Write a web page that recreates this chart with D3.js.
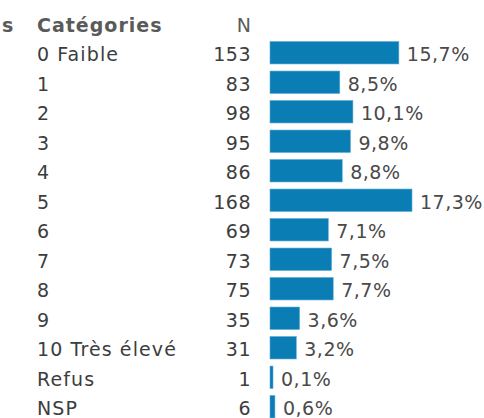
<!DOCTYPE html>
<html>
<head>
<meta charset="utf-8">
<script src="https://cdn.jsdelivr.net/npm/d3@7"></script>
<style>
  body { margin: 0; background: #fff; }
  svg { display: block; font-family: "DejaVu Sans", Verdana, sans-serif; }
</style>
</head>
<body>
<svg id="chart" width="484" height="418"></svg>
<script>
var categories = ["0 Faible", "1", "2", "3", "4", "5", "6", "7", "8", "9", "10 Très élevé", "Refus", "NSP"];
var counts = [153, 83, 98, 95, 86, 168, 69, 73, 75, 35, 31, 1, 6];
var percents = [15.7, 8.5, 10.1, 9.8, 8.8, 17.3, 7.1, 7.5, 7.7, 3.6, 3.2, 0.1, 0.6];
var headers = ["s", "Catégories", "N"];

var rows = categories.map(function(c, i) {
  return {cat: c, n: counts[i], pct: percents[i]};
});

var svg = d3.select("#chart");
var fontSize = 19;

var y = d3.scaleBand()
  .domain(categories)
  .range([38, 38 + categories.length * 29.5])
  .paddingInner(0.24)
  .paddingOuter(0.12);

var x = d3.scaleLinear()
  .domain([0, 17.3])
  .range([270, 412]);

var fmt = function(v) { return d3.format(".1f")(v).replace(".", ",") + "%"; };

// header row (first one is the tail of a clipped column title)
var head = svg.append("g")
  .style("font-size", fontSize + "px")
  .style("font-weight", "bold")
  .attr("fill", "#5a5a5a");

head.append("text")
  .attr("x", 2)
  .attr("y", 32)
  .text(headers[0]);

head.append("text")
  .attr("x", 37)
  .attr("y", 32)
  .style("letter-spacing", "1px")
  .text(headers[1]);

head.append("text")
  .attr("x", 251)
  .attr("y", 32)
  .attr("text-anchor", "end")
  .style("font-weight", "normal")
  .text(headers[2]);

var row = svg.selectAll("g.row")
  .data(rows)
  .enter()
    .append("g")
    .attr("class", "row")
    .style("font-size", fontSize + "px")
    .attr("fill", "#3d3d3d");

row.append("text")
  .attr("x", 37)
  .attr("y", d => y(d.cat) + y.bandwidth() / 2 + 8.5)
  .style("letter-spacing", "1.1px")
  .text(d => d.cat);

row.append("text")
  .attr("x", 251)
  .attr("y", d => y(d.cat) + y.bandwidth() / 2 + 8.5)
  .attr("text-anchor", "end")
  .style("letter-spacing", "0.5px")
  .text(d => d.n);

row.append("rect")
  .attr("x", x(0))
  .attr("y", d => y(d.cat))
  .attr("width", d => Math.max(3, x(d.pct) - x(0)))
  .attr("height", y.bandwidth())
  .attr("fill", "#0a7db4")
  .attr("stroke", "#5aaad6")
  .attr("stroke-width", 0.6);

row.append("text")
  .attr("x", d => Math.max(x(0) + 3, x(d.pct)) + 8)
  .attr("y", d => y(d.cat) + y.bandwidth() / 2 + 8.5)
  .attr("fill", "#4a4a4a")
  .style("letter-spacing", "0.5px")
  .text(d => fmt(d.pct));
</script>
</body>
</html>
